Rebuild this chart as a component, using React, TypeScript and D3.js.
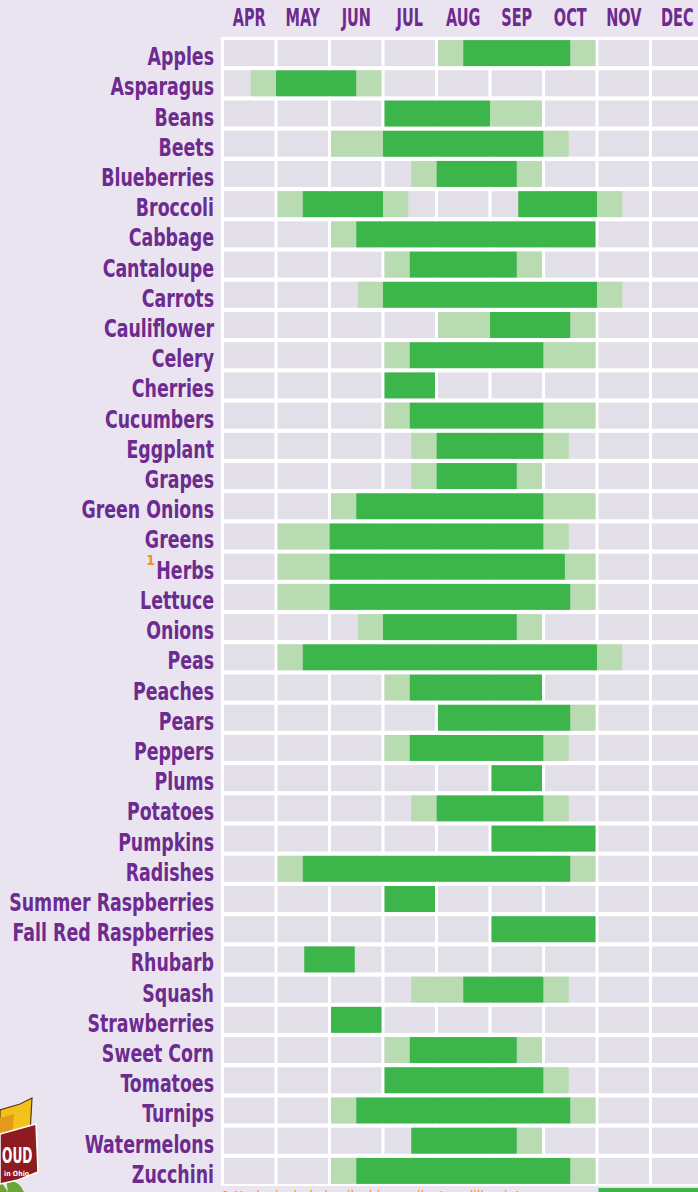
import React, { useEffect } from "react";
import * as d3 from "d3";

const months = ["APR", "MAY", "JUN", "JUL", "AUG", "SEP", "OCT", "NOV", "DEC"];

const crops = [
  "Apples", "Asparagus", "Beans", "Beets", "Blueberries", "Broccoli", "Cabbage",
  "Cantaloupe", "Carrots", "Cauliflower", "Celery", "Cherries", "Cucumbers",
  "Eggplant", "Grapes", "Green Onions", "Greens", "Herbs", "Lettuce", "Onions",
  "Peas", "Peaches", "Pears", "Peppers", "Plums", "Potatoes", "Pumpkins",
  "Radishes", "Summer Raspberries", "Fall Red Raspberries", "Rhubarb", "Squash",
  "Strawberries", "Sweet Corn", "Tomatoes", "Turnips", "Watermelons", "Zucchini",
];

// months counted from the start of April
const peakSeason: [number, number][][] = [
  [[4.5, 6.5]], [[1, 2.5]], [[3, 5]], [[3, 6]], [[4, 5.5]], [[1.5, 3], [5.5, 7]],
  [[2.5, 7]], [[3.5, 5.5]], [[3, 7]], [[5, 6.5]], [[3.5, 6]], [[3, 4]], [[3.5, 6]],
  [[4, 6]], [[4, 5.5]], [[2.5, 6]], [[2, 6]], [[2, 6.4]], [[2, 6.5]], [[3, 5.5]],
  [[1.5, 7]], [[3.5, 6]], [[4, 6.5]], [[3.5, 6]], [[5, 6]], [[4, 6]], [[5, 7]],
  [[1.5, 6.5]], [[3, 4]], [[5, 7]], [[1.5, 2.5]], [[4.5, 6]],
  [[2, 3]], [[3.5, 5.5]], [[3, 6]], [[2.5, 6.5]], [[3.5, 5.5]], [[2.5, 6.5]],
];

const shoulderSeason: [number, number][][] = [
  [[4, 4.5], [6.5, 7]], [[0.5, 1], [2.5, 3]], [[5, 6]], [[2, 3], [6, 6.5]],
  [[3.5, 4], [5.5, 6]], [[1, 1.5], [3, 3.5], [7, 7.5]], [[2, 2.5]],
  [[3, 3.5], [5.5, 6]], [[2.5, 3], [7, 7.5]], [[4, 5], [6.5, 7]], [[3, 3.5], [6, 7]],
  [], [[3, 3.5], [6, 7]], [[3.5, 4], [6, 6.5]], [[3.5, 4], [5.5, 6]],
  [[2, 2.5], [6, 7]], [[1, 2], [6, 6.5]], [[1, 2], [6.4, 7]], [[1, 2], [6.5, 7]],
  [[2.5, 3], [5.5, 6]], [[1, 1.5], [7, 7.5]], [[3, 3.5]], [[6.5, 7]],
  [[3, 3.5], [6, 6.5]], [], [[3.5, 4], [6, 6.5]], [], [[1, 1.5], [6.5, 7]],
  [], [], [], [[3.5, 4.5], [6, 6.5]], [], [[3, 3.5], [5.5, 6]], [[6, 6.5]],
  [[2, 2.5], [6.5, 7]], [[5.5, 6]], [[2, 2.5], [6.5, 7]],
];

const footnoteCrop = "Herbs";
const footnoteText = "Herbs include basil, chives, cilantro, dill, mint, oregano, parsley, rosemary and thyme";

const W = 698;
const H = 1192;
const BG = "#e9e4f0";
const CELL = "#e2dfe8";
const PEAK = "#3cb54b";
const SHOULDER = "#b9dbb1";
const PURPLE = "#6d2a8f";
const FONT = "'DejaVu Sans Condensed', 'Liberation Sans Narrow', 'Noto Sans', sans-serif";

export default function App() {
  useEffect(() => {
    document.body.style.margin = "0";
  }, []);

  const x = d3.scaleLinear().domain([0, 9]).range([222.5, 704]);
  const y = d3
    .scaleBand<string>()
    .domain(crops)
    .range([38, 1186])
    .paddingInner(0.14)
    .paddingOuter(0.07);
  const bw = y.bandwidth();
  const step = x(1) - x(0);
  const gap = 1.5;

  const segRects = (
    segs: [number, number][],
    all: [number, number][],
    color: string,
    row: string,
    key: string
  ) =>
    segs.map(([s, e], j) => {
      const leftTouch = all.some(([, e2]) => e2 === s);
      const rightTouch = all.some(([s2]) => s2 === e);
      const x0 = x(s) + (leftTouch ? 0 : gap);
      const x1 = x(e) - (rightTouch ? 0 : gap);
      return (
        <rect key={key + j} x={x0} y={y(row)} width={x1 - x0} height={bw} fill={color} />
      );
    });

  return (
    <svg width={W} height={H} style={{ display: "block" }} fontFamily={FONT}>
      <rect width={W} height={H} fill={BG} />
      {/* month header */}
      {months.map((m, i) => (
        <text
          key={m}
          transform={`translate(${x(i + 0.5)},26) scale(0.7,1.05)`}
          textAnchor="middle"
          fontSize={23}
          fontWeight="bold"
          fill={PURPLE}
        >
          {m}
        </text>
      ))}
      {/* grid background */}
      <rect x={x(0) - gap} y={37} width={W - x(0) + gap} height={1186 - 37} fill="#ffffff" />
      {crops.map((c) =>
        months.map((m, i) => (
          <rect
            key={c + m}
            x={x(i) + gap}
            y={y(c)}
            width={step - 2 * gap}
            height={bw}
            fill={CELL}
          />
        ))
      )}
      {/* season bars */}
      {crops.map((c, i) => {
        const all = [...peakSeason[i], ...shoulderSeason[i]];
        return (
          <g key={c}>
            {segRects(shoulderSeason[i], all, SHOULDER, c, c + "s")}
            {segRects(peakSeason[i], all, PEAK, c, c + "p")}
          </g>
        );
      })}
      {/* labels */}
      {crops.map((c) => (
        <text
          key={c}
          transform={`translate(214,${(y(c) as number) + bw - 1}) scale(0.84,1.05)`}
          textAnchor="end"
          fontSize={23}
          fontWeight="bold"
          fill={PURPLE}
        >
          {c}
        </text>
      ))}
      <text
        x={155}
        y={(y(footnoteCrop) as number) + 11}
        textAnchor="end"
        fontSize={14}
        fontWeight="bold"
        fill="#f0901e"
      >
        1
      </text>
      {/* footnote (cut off at bottom) */}
      <text x={222} y={1201} fontSize={14} fill="#f0901e">
        {"1 " + footnoteText}
      </text>
      <rect x={x(7) + gap} y={1188} width={W - x(7)} height={6} fill={PEAK} />
      {/* partial logo, bottom left */}
      <g>
        <path d="M0,1110 L20,1104 L32,1098 L30,1134 L0,1140 Z" fill="#f2c21b" stroke="#5a3a10" strokeWidth={1.2} />
        <path d="M0,1118 L14,1114 L12,1138 L0,1140 Z" fill="#e59a1c" />
        <path d="M0,1180 L8,1192 L0,1192 Z M6,1178 Q20,1182 24,1192 L8,1192 Z" fill="#6aa535" />
        <path d="M0,1134 L36,1124 L38,1172 L18,1180 L0,1184 Z" fill="#8e1b1f" stroke="#ffffff" strokeWidth={1.5} />
        <text transform="translate(2,1163) scale(0.68,1.1)" fontSize={20} fontWeight="bold" fill="#ffffff">
          OUD
        </text>
        <text x={4} y={1176} fontSize={7} fontWeight="bold" fill="#ffffff">
          in Ohio
        </text>
      </g>
    </svg>
  );
}
